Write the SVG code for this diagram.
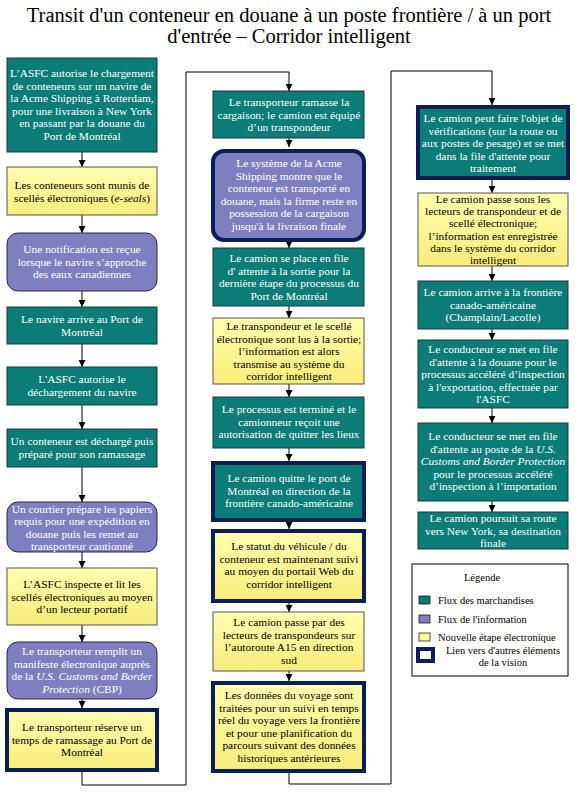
<svg xmlns="http://www.w3.org/2000/svg" width="578" height="796" viewBox="0 0 578 796" font-family="Liberation Serif, DejaVu Serif, serif">
<defs>
<linearGradient id="yg" x1="0" y1="0" x2="0" y2="1"><stop offset="0" stop-color="#FFFFB0"/><stop offset="1" stop-color="#F8EC7A"/></linearGradient>
<marker id="ah" viewBox="0 0 8 8" refX="8" refY="4" markerWidth="7" markerHeight="7" markerUnits="userSpaceOnUse" orient="auto"><path d="M0,0 L8,4 L0,8 z" fill="#000"/></marker>
<style>
.t{font-size:11.4px;text-anchor:middle}
.w{fill:#fff}
.k{fill:#000}
.teal{fill:#0B7C78;stroke:#1a3a3a;stroke-width:1}
.pur{fill:#7F7FC0;stroke:#222255;stroke-width:1}
.yel{fill:url(#yg);stroke:#555;stroke-width:1}
.thick{stroke:#0B1E5A;stroke-width:4}
.c{fill:none;stroke:#000;stroke-width:1}
.title{font-size:20.5px;text-anchor:middle;fill:#000}
.lg{font-size:10.5px;fill:#000}
</style>
</defs>
<rect width="578" height="796" fill="#fff"/>
<text class="title" x="289" y="22">Transit d'un conteneur en douane à un poste frontière / à un port</text>
<text class="title" x="289" y="43">d'entrée – Corridor intelligent</text>

<g id="connectors">
<path class="c" d="M82,152 V167" marker-end="url(#ah)"/>
<path class="c" d="M82,215 V233" marker-end="url(#ah)"/>
<path class="c" d="M82,291 V307" marker-end="url(#ah)"/>
<path class="c" d="M82,344 V367" marker-end="url(#ah)"/>
<path class="c" d="M82,405 V429" marker-end="url(#ah)"/>
<path class="c" d="M82,467 V502" marker-end="url(#ah)"/>
<path class="c" d="M82,552 V568" marker-end="url(#ah)"/>
<path class="c" d="M82,625 V642" marker-end="url(#ah)"/>
<path class="c" d="M82,699 V708" marker-end="url(#ah)"/>
<path class="c" d="M82,772 V785 H186 V72 H289 V91" marker-end="url(#ah)"/>
<path class="c" d="M289,138 V147" marker-end="url(#ah)"/>
<path class="c" d="M289,242 V248" marker-end="url(#ah)"/>
<path class="c" d="M289,306 V318" marker-end="url(#ah)"/>
<path class="c" d="M289,384 V397" marker-end="url(#ah)"/>
<path class="c" d="M289,448 V461" marker-end="url(#ah)"/>
<path class="c" d="M289,522 V529" marker-end="url(#ah)"/>
<path class="c" d="M289,603 V612" marker-end="url(#ah)"/>
<path class="c" d="M289,671 V681" marker-end="url(#ah)"/>
<path class="c" d="M289,773 V784 H391 V71 H492 V105" marker-end="url(#ah)"/>
<path class="c" d="M492,180 V193" marker-end="url(#ah)"/>
<path class="c" d="M492,266 V281" marker-end="url(#ah)"/>
<path class="c" d="M492,329 V340" marker-end="url(#ah)"/>
<path class="c" d="M492,408 V423" marker-end="url(#ah)"/>
<path class="c" d="M492,501 V512" marker-end="url(#ah)"/>
</g>

<g id="n1"><rect class="teal" x="7" y="58" width="150" height="94"/>
<text class="t w" x="82" y="77">L’ASFC autorise le chargement<tspan x="82" dy="12.5">de conteneurs sur un navire de</tspan><tspan x="82" dy="12.5">la Acme Shipping à Rotterdam,</tspan><tspan x="82" dy="12.5">pour une livraison à New York</tspan><tspan x="82" dy="12.5">en passant par la douane du</tspan><tspan x="82" dy="12.5">Port de Montréal</tspan></text></g>

<g id="n2"><rect class="yel" x="7" y="167" width="150" height="48"/>
<text class="t k" x="82" y="189">Les conteneurs sont munis de<tspan x="82" dy="13">scellés électroniques (<tspan font-style="italic">e-seals</tspan>)</tspan></text></g>

<g id="n3"><rect class="pur" x="7" y="233" width="150" height="58" rx="11"/>
<text class="t w" x="82" y="253">Une notification est reçue<tspan x="82" dy="12.5">lorsque le navire s’approche</tspan><tspan x="82" dy="12.5">des eaux canadiennes</tspan></text></g>

<g id="n4"><rect class="teal" x="7" y="307" width="150" height="37"/>
<text class="t w" x="82" y="323">Le navire arrive au Port de<tspan x="82" dy="12.5">Montréal</tspan></text></g>

<g id="n5"><rect class="teal" x="7" y="367" width="150" height="38"/>
<text class="t w" x="82" y="383">L'ASFC autorise le<tspan x="82" dy="12.5">déchargement du navire</tspan></text></g>

<g id="n6"><rect class="teal" x="7" y="429" width="150" height="38"/>
<text class="t w" x="82" y="445">Un conteneur est déchargé puis<tspan x="82" dy="12.5">préparé pour son ramassage</tspan></text></g>

<g id="n7"><rect class="pur" x="7" y="502" width="150" height="50" rx="11"/>
<text class="t w" x="82" y="513">Un courtier prépare les papiers<tspan x="82" dy="12.3">requis pour une expédition en</tspan><tspan x="82" dy="12.3">douane puis les remet au</tspan><tspan x="82" dy="12.3">transporteur cautionné</tspan></text></g>

<g id="n8"><rect class="yel" x="7" y="568" width="150" height="57"/>
<text class="t k" x="82" y="588">L’ASFC inspecte et lit les<tspan x="82" dy="12.5">scellés électroniques au moyen</tspan><tspan x="82" dy="12.5">d’un lecteur portatif</tspan></text></g>

<g id="n9"><rect class="pur" x="7" y="642" width="150" height="57" rx="11"/>
<text class="t w" x="82" y="655">Le transporteur remplit un<tspan x="82" dy="12.5">manifeste électronique auprès</tspan><tspan x="82" dy="12.5">de la <tspan font-style="italic">U.S. Customs and Border</tspan></tspan><tspan x="82" dy="12.5"><tspan font-style="italic">Protection</tspan> (CBP)</tspan></text></g>

<g id="n10"><rect class="yel thick" x="7" y="710" width="150" height="60"/>
<text class="t k" x="82" y="731">Le transporteur réserve un<tspan x="82" dy="12.5">temps de ramassage au Port de</tspan><tspan x="82" dy="12.5">Montréal</tspan></text></g>

<g id="n11"><rect class="teal" x="213" y="91" width="151" height="47"/>
<text class="t w" x="289" y="106">Le transporteur ramasse la<tspan x="289" dy="12.5">cargaison; le camion est équipé</tspan><tspan x="289" dy="12.5">d’un transpondeur</tspan></text></g>

<g id="n12"><rect class="pur thick" x="213" y="151" width="151" height="89" rx="11"/>
<text class="t w" x="289" y="167">Le système de la Acme<tspan x="289" dy="12.5">Shipping montre que le</tspan><tspan x="289" dy="12.5">conteneur est transporté en</tspan><tspan x="289" dy="12.5">douane, mais la firme reste en</tspan><tspan x="289" dy="12.5">possession de la cargaison</tspan><tspan x="289" dy="12.5">jusqu'à la livraison finale</tspan></text></g>

<g id="n13"><rect class="teal" x="213" y="248" width="151" height="58"/>
<text class="t w" x="289" y="262">Le camion se place en file<tspan x="289" dy="12.5">d' attente à la sortie pour la</tspan><tspan x="289" dy="12.5">dernière étape du processus du</tspan><tspan x="289" dy="12.5">Port de Montréal</tspan></text></g>

<g id="n14"><rect class="yel" x="213" y="318" width="151" height="66"/>
<text class="t k" x="289" y="330">Le transpondeur et le scellé<tspan x="289" dy="12.5">électronique sont lus à la sortie;</tspan><tspan x="289" dy="12.5">l’information est alors</tspan><tspan x="289" dy="12.5">transmise au système du</tspan><tspan x="289" dy="12.5">corridor intelligent</tspan></text></g>

<g id="n15"><rect class="teal" x="213" y="397" width="151" height="51"/>
<text class="t w" x="289" y="413">Le processus est terminé et le<tspan x="289" dy="12.5">camionneur reçoit une</tspan><tspan x="289" dy="12.5">autorisation de quitter les lieux</tspan></text></g>

<g id="n16"><rect class="teal thick" x="213" y="463" width="151" height="57"/>
<text class="t w" x="289" y="482">Le camion quitte le port de<tspan x="289" dy="12.5">Montréal en direction de la</tspan><tspan x="289" dy="12.5">frontière canado-américaine</tspan></text></g>

<g id="n17"><rect class="yel thick" x="213" y="531" width="151" height="70"/>
<text class="t k" x="289" y="550">Le statut du véhicule / du<tspan x="289" dy="12.5">conteneur est maintenant suivi</tspan><tspan x="289" dy="12.5">au moyen du portail Web du</tspan><tspan x="289" dy="12.5">corridor intelligent</tspan></text></g>

<g id="n18"><rect class="yel" x="213" y="612" width="151" height="59"/>
<text class="t k" x="289" y="626">Le camion passe par des<tspan x="289" dy="12.5">lecteurs de transpondeurs sur</tspan><tspan x="289" dy="12.5">l’autoroute A15 en direction</tspan><tspan x="289" dy="12.5">sud</tspan></text></g>

<g id="n19"><rect class="yel thick" x="213" y="683" width="151" height="88"/>
<text class="t k" x="289" y="699">Les données du voyage sont<tspan x="289" dy="12.5">traitées pour un suivi en temps</tspan><tspan x="289" dy="12.5">réel du voyage vers la frontière</tspan><tspan x="289" dy="12.5">et pour une planification du</tspan><tspan x="289" dy="12.5">parcours suivant des données</tspan><tspan x="289" dy="12.5">historiques antérieures</tspan></text></g>

<g id="n20"><rect class="teal thick" x="418" y="107" width="150" height="71"/>
<text class="t w" x="493" y="122">Le camion peut faire l'objet de<tspan x="493" dy="12.5">vérifications (sur la route ou</tspan><tspan x="493" dy="12.5">aux postes de pesage) et se met</tspan><tspan x="493" dy="12.5">dans la file d'attente pour</tspan><tspan x="493" dy="12.5">traitement</tspan></text></g>

<g id="n21"><rect class="yel" x="418" y="193" width="150" height="73"/>
<text class="t k" x="493" y="203">Le camion passe sous les<tspan x="493" dy="12.2">lecteurs de transpondeur et de</tspan><tspan x="493" dy="12.2">scellé électronique;</tspan><tspan x="493" dy="12.2">l’information est enregistrée</tspan><tspan x="493" dy="12.2">dans le système du corridor</tspan><tspan x="493" dy="12.2">intelligent</tspan></text></g>

<g id="n22"><rect class="teal" x="418" y="281" width="150" height="48"/>
<text class="t w" x="493" y="296">Le camion arrive à la frontière<tspan x="493" dy="12.5">canado-américaine</tspan><tspan x="493" dy="12.5">(Champlain/Lacolle)</tspan></text></g>

<g id="n23"><rect class="teal" x="418" y="340" width="150" height="68"/>
<text class="t w" x="493" y="353">Le conducteur se met en file<tspan x="493" dy="12.5">d'attente à la douane pour le</tspan><tspan x="493" dy="12.5">processus accéléré d’inspection</tspan><tspan x="493" dy="12.5">à l'exportation, effectuée par</tspan><tspan x="493" dy="12.5">l'ASFC</tspan></text></g>

<g id="n24"><rect class="teal" x="418" y="423" width="150" height="78"/>
<text class="t w" x="493" y="440">Le conducteur se met en file<tspan x="493" dy="12.5">d'attente au poste de la <tspan font-style="italic">U.S.</tspan></tspan><tspan x="493" dy="12.5" font-style="italic">Customs and Border Protection</tspan><tspan x="493" dy="12.5">pour le processus accéléré</tspan><tspan x="493" dy="12.5">d’inspection à l’importation</tspan></text></g>

<g id="n25"><rect class="teal" x="418" y="512" width="150" height="37"/>
<text class="t w" x="493" y="522">Le camion poursuit sa route<tspan x="493" dy="12.5">vers New York, sa destination</tspan><tspan x="493" dy="12.5">finale</tspan></text></g>

<g id="legend">
<rect x="412" y="564" width="156" height="112" fill="#fff" stroke="#000" stroke-width="1"/>
<text class="lg" x="482" y="581" text-anchor="middle">Légende</text>
<rect x="419" y="596" width="11" height="8" fill="#0B7C78" stroke="#000" stroke-width="0.7"/>
<text class="lg" x="438" y="604">Flux des marchandises</text>
<rect x="419" y="615" width="11" height="8" fill="#7F7FC0" stroke="#000" stroke-width="0.7"/>
<text class="lg" x="438" y="623">Flux de l'information</text>
<rect x="419" y="633" width="11" height="8" fill="#FFFF99" stroke="#000" stroke-width="0.7"/>
<text class="lg" x="438" y="641">Nouvelle étape électronique</text>
<rect x="418" y="649" width="15" height="12" fill="#fff" stroke="#0B1E5A" stroke-width="4"/>
<text class="lg" x="503" y="654" text-anchor="middle">Lien vers d'autres éléments</text>
<text class="lg" x="503" y="666" text-anchor="middle">de la vision</text>
</g>
</svg>
